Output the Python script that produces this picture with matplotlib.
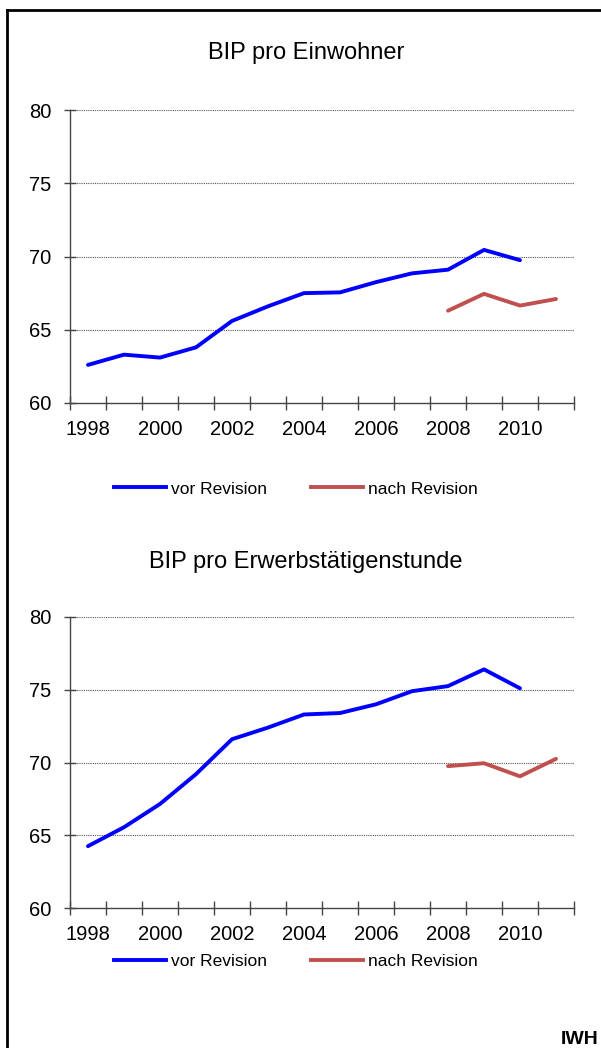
import numpy as np
import matplotlib
matplotlib.use('Agg')
import matplotlib.pyplot as plt
from matplotlib.lines import Line2D

plt.rcParams['font.family'] = ['Liberation Sans', 'DejaVu Sans']

years = list(range(1998, 2012))
tick_labels = ['1998', '2000', '2002', '2004', '2006', '2008', '2010']

# BIP pro Einwohner
einw_vor = [62.6, 63.3, 63.1, 63.8, 65.6, 66.6, 67.5, 67.55, 68.25, 68.85, 69.1, 70.45, 69.75]
einw_nach = [66.3, 67.45, 66.65, 67.1]

# BIP pro Erwerbstaetigenstunde
std_vor = [64.25, 65.55, 67.15, 69.2, 71.6, 72.4, 73.3, 73.4, 74.0, 74.9, 75.25, 76.4, 75.1]
std_nach = [69.75, 69.95, 69.05, 70.25]

blue = '#0000FF'
red = '#C0504D'
lw = 2.8

fig = plt.figure(figsize=(6.01, 10.48), dpi=100)


def panel(rect, vor, nach):
    ax = fig.add_axes(rect)
    x = np.arange(len(years))
    ax.plot(x[:len(vor)], vor, color=blue, linewidth=lw, solid_capstyle='round')
    ax.plot(x[len(years) - len(nach):], nach, color=red, linewidth=lw, solid_capstyle='round')
    ax.set_xlim(-0.5, len(years) - 0.5)
    ax.set_ylim(60, 80)
    ax.set_yticks([60, 65, 70, 75, 80])
    ax.set_xticks(np.arange(0, 13, 2))
    ax.set_xticklabels(tick_labels)
    ax.set_xticks(np.arange(-0.5, len(years), 1), minor=True)
    ax.tick_params(axis='x', which='major', length=0, pad=12.5, labelsize=14.5)
    ax.tick_params(axis='x', which='minor', direction='inout', length=10,
                   width=1, color='#444444')
    ax.tick_params(axis='y', direction='inout', length=9, width=1,
                   color='#444444', pad=9, labelsize=14.5)
    for s in ['top', 'right']:
        ax.spines[s].set_visible(False)
    for s in ['left', 'bottom']:
        ax.spines[s].set_color('#444444')
        ax.spines[s].set_linewidth(1)
    for v in [65, 70, 75, 80]:
        ax.axhline(v, color='#555555', linewidth=0.8, linestyle=(0, (1, 1)), zorder=0)
    return ax


ax1 = panel([70 / 601, 1 - 403 / 1048, 504 / 601, 293 / 1048], einw_vor, einw_nach)
ax2 = panel([70 / 601, 1 - 908 / 1048, 504 / 601, 291 / 1048], std_vor, std_nach)

fig.text(306 / 601, 1 - 53 / 1048, 'BIP pro Einwohner', ha='center', va='center', fontsize=17)
fig.text(306 / 601, 1 - 562 / 1048, 'BIP pro Erwerbstätigenstunde', ha='center', va='center', fontsize=17)

handles = [Line2D([], [], color=blue, linewidth=lw),
           Line2D([], [], color=red, linewidth=lw)]
for yc in [489, 961]:
    fig.legend(handles, ['vor Revision', 'nach Revision'], ncol=2, frameon=False,
               loc='center', bbox_to_anchor=(296 / 601, 1 - yc / 1048),
               fontsize=12.5, handlelength=3.0, handletextpad=0.3,
               columnspacing=2.5)

fig.text(599 / 601, 1 - 1040 / 1048, 'IWH', ha='right', va='center',
         fontsize=14, fontweight='bold')

# frame (left and top only)
fig.add_artist(Line2D([7 / 601, 7 / 601], [0, 1 - 10 / 1048], color='black',
                      linewidth=2, transform=fig.transFigure))
fig.add_artist(Line2D([7 / 601, 1], [1 - 10 / 1048, 1 - 10 / 1048], color='black',
                      linewidth=2, transform=fig.transFigure))

fig.savefig('out.png', dpi=100)
